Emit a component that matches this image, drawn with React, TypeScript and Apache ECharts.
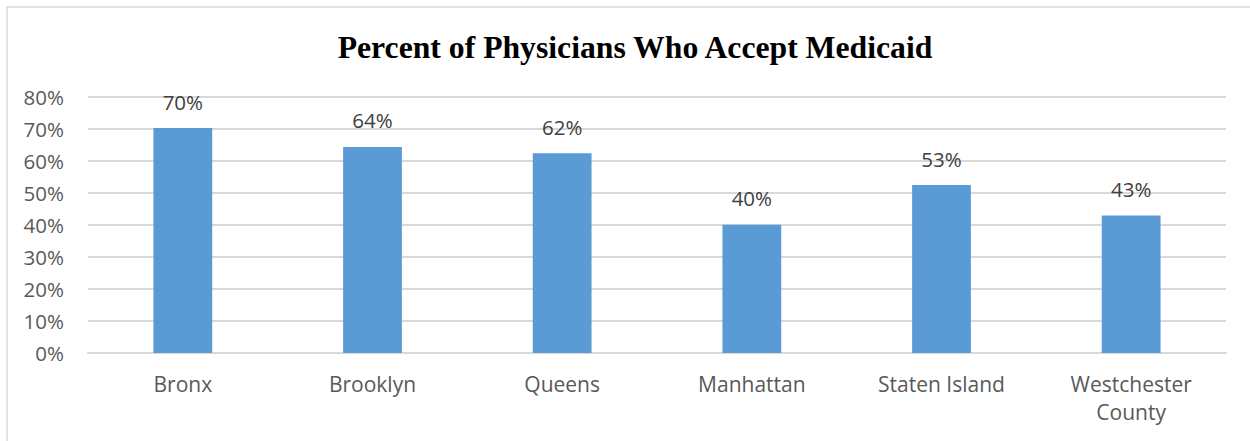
import React, { useEffect, useRef } from "react";
import * as echarts from "echarts";

const categories = ["Bronx", "Brooklyn", "Queens", "Manhattan", "Staten Island", "Westchester\nCounty"];
const acceptPct = [70.3, 64.4, 62.4, 40.1, 52.5, 43.0];
const yTicks = [0, 10, 20, 30, 40, 50, 60, 70, 80];
const titleText = "Percent of Physicians Who Accept Medicaid";

export default function App() {
  const ref = useRef<HTMLDivElement>(null);
  useEffect(() => {
    if (!ref.current) return;
    const chart = echarts.init(ref.current, null, { renderer: "svg" });
    const font = "'Open Sans', sans-serif";
    chart.setOption({
      animation: false,
      backgroundColor: "#ffffff",
      title: {
        text: titleText,
        left: 630,
        textAlign: "center",
        top: 26,
        textStyle: { fontFamily: "'Liberation Serif', 'Times New Roman', serif", fontWeight: "bold", fontSize: 31.7, color: "#000000" },
      },
      graphic: [
        { type: "rect", shape: { x: 7, y: 7, width: 1300, height: 500 }, style: { fill: "none", stroke: "#d9d9d9", lineWidth: 1.5 }, silent: true },
      ],
      grid: { left: 88, right: 24, top: 97, bottom: 88, containLabel: false },
      xAxis: {
        type: "category",
        data: categories,
        axisLine: { show: true, lineStyle: { color: "#d9d9d9", width: 2 } },
        axisTick: { show: false },
        axisLabel: { color: "#595959", fontFamily: font, fontSize: 21, margin: 17, lineHeight: 28, interval: 0 },
      },
      yAxis: {
        type: "value",
        min: yTicks[0],
        max: yTicks[yTicks.length - 1],
        interval: 10,
        axisLine: { show: false },
        axisTick: { show: false },
        splitLine: { lineStyle: { color: "#d9d9d9", width: 2 } },
        axisLabel: { color: "#595959", fontFamily: font, fontSize: 20.5, margin: 24, formatter: (v: number) => `${v}%` },
      },
      series: [
        {
          type: "bar",
          data: acceptPct,
          barWidth: "31%",
          itemStyle: { color: "#5b9bd5" },
          label: {
            show: true,
            position: "top",
            distance: 16,
            color: "#404040",
            fontFamily: font,
            fontSize: 20.5,
            formatter: (p: any) => `${Math.round(p.value)}%`,
          },
        },
      ],
    });
    return () => chart.dispose();
  }, []);
  return <div ref={ref} style={{ position: "absolute", left: 0, top: 0, width: 1250, height: 441 }} />;
}
